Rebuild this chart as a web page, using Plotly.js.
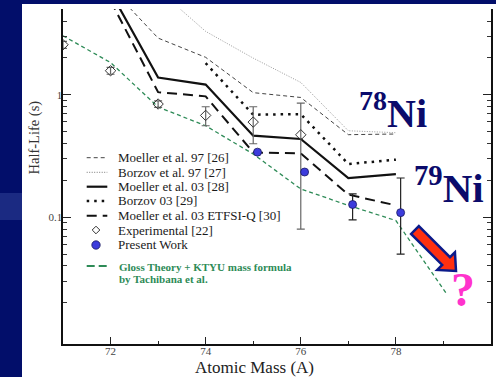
<!DOCTYPE html>
<html><head><meta charset="utf-8">
<script src="https://cdn.plot.ly/plotly-3.0.1.min.js"></script>
<style>
html,body{margin:0;padding:0;width:496px;height:377px;overflow:hidden;background:#020e6a;}
#white{position:absolute;left:22px;top:4px;width:474px;height:373px;background:#ffffff;}
#band{position:absolute;left:0;top:193px;width:22px;height:27px;background:#1b2a82;}
#chart{position:absolute;left:0;top:0;width:496px;height:377px;}
</style></head><body>
<div id="white"></div><div id="band"></div><div id="chart"></div>
<script>
// ---- data ----
const modelMass = [72, 73, 74, 75, 76, 77, 78];
const moeller97 = [7.5, 2.90, 2.02, 1.04, 0.95, 0.472, 0.478];
const borzov97Mass = [73, 74, 75, 76, 77, 78];
const borzov97 = [7.2, 3.29, 1.99, 1.26, 0.508, 0.49];
const moeller03 = [6.9, 1.38, 1.21, 0.463, 0.435, 0.209, 0.225];
const borzov03Mass = [74, 75, 76, 77, 78];
const borzov03 = [1.81, 0.687, 0.695, 0.272, 0.295];
const etfsiQ = [5.85, 1.05, 0.97, 0.338, 0.332, 0.153, 0.125];
const glossMass = [71, 72, 73, 74, 75, 76, 77, 78, 79.07];
const gloss = [3.03, 1.83, 0.794, 0.558, 0.328, 0.17, 0.125, 0.094, 0.0236];
const expMass = [71, 72, 73, 74, 75, 76];
const expHalfLife = [2.56, 1.57, 0.84, 0.678, 0.598, 0.471];
const expErrPlus = [0.17, 0.10, 0.05, 0.12, 0.20, 0.384];
const expErrMinus = [0.17, 0.10, 0.05, 0.12, 0.20, 0.391];
const presentMass = [75.09, 76.08, 77.09, 78.1];
const presentHalfLife = [0.34, 0.234, 0.127, 0.109];
const presentErrPlus = [NaN, NaN, 0.028, 0.10];
const presentErrMinus = [NaN, NaN, 0.032, 0.059];

const xTickVals = [72, 74, 76, 78];
const xTickText = ['72', '74', '76', '78'];
const xMinorTicks = [73, 75, 77, 79];
const yTickVals = [0.1, 1];
const yTickText = ['0.1', '1'];
const yMinorTicks = [0.02,0.03,0.04,0.05,0.06,0.07,0.08,0.09,0.2,0.3,0.4,0.5,0.6,0.7,0.8,0.9,2,3,4,5];

const legendLabels = [
  'Moeller et al. 97 [26]',
  'Borzov et al. 97 [27]',
  'Moeller et al. 03 [28]',
  'Borzov 03 [29]',
  'Moeller et al. 03 ETFSI-Q [30]',
  'Experimental [22]',
  'Present Work'
];
const glossLabel1 = 'Gloss Theory + KTYU mass formula';
const glossLabel2 = 'by Tachibana et al.';

// ---- geometry helpers ----
const W = 496, H = 377, ML = 63, MR = 5, MT = 9, MB = 33;
const PW = W - ML - MR, PH = H - MT - MB;
const px = x => (x - ML) / PW;
const py = y => (H - MB - y) / PH;
const FONT = 'Liberation Serif';

const styles = [
  {color: '#444', width: 1, dash: '4px,3px'},
  {color: '#9a9a9a', width: 1, dash: '1px,1.5px'},
  {color: '#111', width: 2.2, dash: 'solid'},
  {color: '#111', width: 2.5, dash: '2.5px,5px'},
  {color: '#111', width: 2, dash: '10px,6px'}
];
const green = '#2e8b57';

const traces = [
  {x: modelMass, y: moeller97, name: legendLabels[0], mode: 'lines', line: styles[0]},
  {x: borzov97Mass, y: borzov97, name: legendLabels[1], mode: 'lines', line: styles[1]},
  {x: modelMass, y: moeller03, name: legendLabels[2], mode: 'lines', line: styles[2]},
  {x: borzov03Mass, y: borzov03, name: legendLabels[3], mode: 'lines', line: styles[3]},
  {x: modelMass, y: etfsiQ, name: legendLabels[4], mode: 'lines', line: styles[4]},
  {x: glossMass, y: gloss, name: glossLabel1, mode: 'lines', line: {color: green, width: 1.3, dash: '4px,3px'}},
  {x: expMass, y: expHalfLife, name: legendLabels[5], mode: 'markers',
   marker: {symbol: 'diamond-open', size: 8, color: '#333', line: {width: 1, color: '#333'}},
   error_y: {type: 'data', symmetric: false, array: expErrPlus, arrayminus: expErrMinus, color: '#666', thickness: 1.2, width: 4}},
  {x: presentMass, y: presentHalfLife, name: legendLabels[6], mode: 'markers',
   marker: {symbol: 'circle', size: 8, color: '#3c3cdc', line: {width: 0.8, color: '#1a1a60'}},
   error_y: {type: 'data', symmetric: false, array: presentErrPlus, arrayminus: presentErrMinus, color: '#222', thickness: 1.2, width: 4}}
];

// ---- manual legend ----
const rowY = [157.7, 172.3, 186.7, 201, 215.7, 230, 245];
const shapes = [];
const annotations = [];
for (let i = 0; i < 5; i++) {
  shapes.push({type: 'line', xref: 'paper', yref: 'paper', x0: px(86.7), x1: px(107.3), y0: py(rowY[i]), y1: py(rowY[i]),
    line: {color: styles[i].color === '#9a9a9a' ? '#777' : styles[i].color, width: styles[i].width, dash: styles[i].dash}});
}
// diamond sample
const dx = 96, dy = rowY[5], dr = 3.8;
shapes.push({type: 'path', xref: 'paper', yref: 'paper',
  path: `M${px(dx)},${py(dy - dr)} L${px(dx + dr)},${py(dy)} L${px(dx)},${py(dy + dr)} L${px(dx - dr)},${py(dy)} Z`,
  line: {color: '#333', width: 1}, fillcolor: 'rgba(0,0,0,0)'});
// circle sample
const cr = 4.2, cy = rowY[6];
shapes.push({type: 'circle', xref: 'paper', yref: 'paper', x0: px(dx - cr), x1: px(dx + cr), y0: py(cy + cr), y1: py(cy - cr),
  fillcolor: '#3c3cdc', line: {color: '#1a1a60', width: 0.8}});
// green sample
shapes.push({type: 'line', xref: 'paper', yref: 'paper', x0: px(86.7), x1: px(109.3), y0: py(266), y1: py(266),
  line: {color: green, width: 2.2, dash: '8px,4px'}});

for (let i = 0; i < legendLabels.length; i++) {
  annotations.push({xref: 'paper', yref: 'paper', x: px(116.7), y: py(rowY[i]), xanchor: 'left', yanchor: 'middle',
    text: legendLabels[i], showarrow: false, borderpad: 0, font: {family: FONT, size: 13, color: '#1a1a1a'}});
}
annotations.push({xref: 'paper', yref: 'paper', x: px(118.3), y: py(267.3), xanchor: 'left', yanchor: 'middle',
  text: '<b>' + glossLabel1 + '</b>', showarrow: false, borderpad: 0, font: {family: FONT, size: 11, color: green}});
annotations.push({xref: 'paper', yref: 'paper', x: px(118.3), y: py(279.3), xanchor: 'left', yanchor: 'middle',
  text: '<b>' + glossLabel2 + '</b>', showarrow: false, borderpad: 0, font: {family: FONT, size: 11, color: green}});

// axis titles
annotations.push({xref: 'paper', yref: 'paper', x: px(34), y: py(137.5), xanchor: 'center', yanchor: 'middle', textangle: -90,
  text: 'Half-Life (s)', showarrow: false, borderpad: 0, font: {family: FONT, size: 14.5, color: '#333'}});
annotations.push({xref: 'paper', yref: 'paper', x: px(254.5), y: py(376.6), xanchor: 'center', yanchor: 'bottom',
  text: 'Atomic Mass (A)', showarrow: false, borderpad: 0, borderwidth: 0, font: {family: FONT, size: 17, color: '#222'}});

// big labels
annotations.push({xref: 'paper', yref: 'paper', x: px(358), y: py(110), xanchor: 'left', yanchor: 'middle',
  text: '<b><sup>78</sup>Ni</b>', showarrow: false, borderpad: 0, font: {family: FONT, size: 40, color: '#0b0b6b'}});
annotations.push({xref: 'paper', yref: 'paper', x: px(413), y: py(185.5), xanchor: 'left', yanchor: 'middle',
  text: '<b><sup>79</sup>Ni</b>', showarrow: false, borderpad: 0, font: {family: FONT, size: 41, color: '#0b0b6b'}});
annotations.push({xref: 'paper', yref: 'paper', x: px(462.5), y: py(289.5), xanchor: 'center', yanchor: 'middle',
  text: '<b>?</b>', showarrow: false, borderpad: 0, font: {family: FONT, size: 48, color: '#ff33cc'}});

// block arrow (decoration)
(function () {
  const tip = [456, 271], L = 58, headL = 14, headW = 12.5, shaftW = 5.5;
  const d = [Math.SQRT1_2, Math.SQRT1_2], n = [Math.SQRT1_2, -Math.SQRT1_2];
  const c0 = [tip[0] - L * d[0], tip[1] - L * d[1]];
  const h = [tip[0] - headL * d[0], tip[1] - headL * d[1]];
  const pts = [
    [c0[0] + shaftW * n[0], c0[1] + shaftW * n[1]],
    [h[0] + shaftW * n[0], h[1] + shaftW * n[1]],
    [h[0] + headW * n[0], h[1] + headW * n[1]],
    tip,
    [h[0] - headW * n[0], h[1] - headW * n[1]],
    [h[0] - shaftW * n[0], h[1] - shaftW * n[1]],
    [c0[0] - shaftW * n[0], c0[1] - shaftW * n[1]]
  ];
  const path = pts.map((p, i) => (i ? 'L' : 'M') + px(p[0]) + ',' + py(p[1])).join(' ') + ' Z';
  shapes.push({type: 'path', xref: 'paper', yref: 'paper', path: path, fillcolor: '#ff3010', line: {color: '#0b1a8a', width: 2.5}});
})();

const axisFont = {family: FONT, size: 11, color: '#444'};
const layout = {
  width: W, height: H,
  margin: {l: ML, r: MR, t: MT, b: MB, pad: 0},
  paper_bgcolor: 'rgba(0,0,0,0)',
  plot_bgcolor: '#ffffff',
  showlegend: false,
  font: {family: FONT},
  xaxis: {
    range: [71, 80], tickmode: 'array', tickvals: xTickVals, ticktext: xTickText,
    ticks: 'inside', ticklen: 7, tickwidth: 1, tickcolor: '#222', ticklabelstandoff: -4,
    showline: true, linecolor: '#111', linewidth: 1.8, mirror: false,
    showgrid: false, zeroline: false, tickfont: axisFont,
    minor: {tickmode: 'array', tickvals: xMinorTicks, ticks: 'inside', ticklen: 3.5, tickwidth: 1, tickcolor: '#222', showgrid: false}
  },
  xaxis2: {
    overlaying: 'x', matches: 'x', anchor: 'y', side: 'top',
    range: [71, 80], tickmode: 'array', tickvals: xTickVals, showticklabels: false,
    ticks: 'inside', ticklen: 7, tickwidth: 1, tickcolor: '#333',
    showline: true, linecolor: '#8a8a8a', linewidth: 1,
    showgrid: false, zeroline: false,
    minor: {tickmode: 'array', tickvals: xMinorTicks, ticks: 'inside', ticklen: 3.5, tickwidth: 1, tickcolor: '#333', showgrid: false}
  },
  yaxis: {
    type: 'log', range: [-2.035, 0.70], tickmode: 'array', tickvals: yTickVals, ticktext: yTickText,
    ticks: 'inside', ticklen: 8, tickwidth: 1, tickcolor: '#222', ticklabelstandoff: -3,
    showline: true, linecolor: '#111', linewidth: 1.6, mirror: 'allticks',
    showgrid: false, zeroline: false, tickfont: axisFont,
    minor: {tickmode: 'array', tickvals: yMinorTicks, ticks: 'inside', ticklen: 4, tickwidth: 1, tickcolor: '#333', showgrid: false}
  },
  shapes: shapes,
  annotations: annotations
};

Plotly.newPlot('chart', traces, layout, {displayModeBar: false, staticPlot: true});
</script></body></html>
